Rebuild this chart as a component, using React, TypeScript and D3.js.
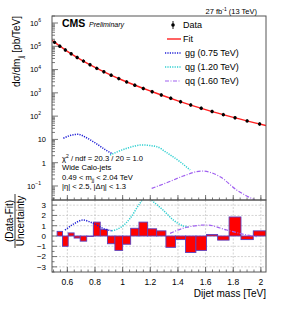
import * as d3 from "d3";
import React from "react";

// dijet mass bin edges [TeV]
const binEdges = [0.489, 0.526, 0.565, 0.606, 0.649, 0.693, 0.740, 0.788, 0.838, 0.890, 0.944, 1.000, 1.058, 1.118, 1.181, 1.246, 1.313, 1.383, 1.455, 1.530, 1.607, 1.687, 1.770, 1.856, 1.945, 2.037];
// measured dsigma/dm [pb/TeV]
const dataXsec = [148000, 101000, 69300, 47500, 33000, 23100, 16200, 11300, 8020, 5730, 4090, 2950, 2130, 1540, 1120, 809, 583, 417, 301, 217, 158, 116, 85, 62.5, 45.9];
// (data-fit)/uncertainty per bin
const residuals = [0, 0.45, -1.0, 0.3, -0.2, -0.5, -0.05, 1.35, 0.65, -0.75, -1.4, -0.8, 0.75, 1.35, 0.7, 0.5, -1.1, -0.35, -1.6, -1.4, 0.15, -0.4, 1.85, -0.35, 0.5];

const fitMass = [0.489, 0.6, 0.7, 0.8, 0.9, 1.0, 1.2, 1.4, 1.6, 1.8, 2.037];
const fitXsec = [179000, 60800, 26300, 12400, 6380, 3480, 1200, 456, 191, 89, 39.3];

const ggMass = [0.571, 0.625, 0.679, 0.73, 0.788, 0.885, 0.921];
const ggXsec = [11.2, 15.0, 16.6, 12.5, 8.0, 3.3, 2.5];
const qgMass = [0.909, 1.03, 1.138, 1.247, 1.319, 1.415, 1.488];
const qgXsec = [2.14, 4.15, 5.75, 4.87, 2.69, 1.1, 0.485];
const qqMass = [1.21, 1.319, 1.439, 1.572, 1.705, 1.825, 1.957];
const qqXsec = [0.079, 0.138, 0.268, 0.44, 0.25, 0.067, 0.025];

const ggResMass = [0.583, 0.65, 0.711, 0.788, 0.873, 0.921];
const ggResVal = [0.58, 1.2, 1.55, 1.23, 0.65, 0.51];
const qgResMass = [0.921, 0.993, 1.053, 1.126, 1.17, 1.222, 1.294, 1.367, 1.439, 1.475];
const qgResVal = [0.5, 0.9, 1.7, 3.2, 3.9, 3.33, 2.5, 1.55, 0.97, 0.9];
const qqResMass = [1.343, 1.464, 1.608, 1.753, 1.898, 1.97];
const qqResVal = [0.26, 0.85, 1.07, 0.58, 0.1, -0.06];

const xTicks = [0.6, 0.8, 1.0, 1.2, 1.4, 1.6, 1.8, 2.0];
const xTickLabels = ["0.6", "0.8", "1", "1.2", "1.4", "1.6", "1.8", "2"];
const yDecades = [-1, 0, 1, 2, 3, 4, 5, 6];
const resTicks = [3, 2, 1, 0, -1, -2, -3];

const W = 283;
const H = 319;
const L = 52;
const R = 266;
const T = 16;
const MID = 200;
const B = 272;
const font = "'Liberation Sans', Arial, Helvetica, sans-serif";
const frameColor = "#555";

const x = d3.scaleLinear().domain([0.489, 2.037]).range([L, R]);
const yMain = d3.scaleLog().domain([0.025, 2e6]).range([MID, T]);
const yRes = d3.scaleLinear().domain([-3.5, 3.5]).range([B, MID]);

const sigColors = { gg: "#1f1fd6", qg: "#2ecfd0", qq: "#a060f0" };

function mainLine(ms: number[], vs: number[]) {
  return d3
    .line<number>()
    .x((_, i) => x(ms[i]))
    .y((v) => yMain(v))
    .curve(d3.curveMonotoneX)(vs) || undefined;
}

function resLine(ms: number[], vs: number[]) {
  return d3
    .line<number>()
    .x((_, i) => x(ms[i]))
    .y((v) => yRes(v))
    .curve(d3.curveMonotoneX)(vs) || undefined;
}

const Sup = ({ children }: { children: React.ReactNode }) => (
  <tspan dy={-3.5} fontSize={5}>{children}</tspan>
);

export default function App() {
  const centers = binEdges.slice(0, -1).map((e, i) => (e + binEdges[i + 1]) / 2);

  const minorX = d3.range(0.5, 2.04, 0.05).filter((v) => x(v) >= L && x(v) <= R);
  const logTicks: { v: number; major: boolean }[] = [];
  for (let n = -2; n <= 6; n++) {
    for (let k = 1; k <= 9; k++) {
      const v = k * Math.pow(10, n);
      if (v >= 0.025 && v <= 2e6) logTicks.push({ v, major: k === 1 });
    }
  }
  const resMinor = d3.range(-3.5, 3.51, 0.5);

  return (
    <div style={{ position: "absolute", left: 0, top: 0 }}>
      <svg width={W} height={H} style={{ display: "block", background: "#fff" }} fontFamily={font}>
        <defs>
          <clipPath id="clipMain">
            <rect x={L} y={T} width={R - L} height={MID - T} />
          </clipPath>
          <clipPath id="clipRes">
            <rect x={L} y={MID} width={R - L} height={B - MID} />
          </clipPath>
        </defs>

        {/* lower panel grid */}
        {resTicks.map((t) => (
          <line key={"gy" + t} x1={L} x2={R} y1={yRes(t)} y2={yRes(t)} stroke="#c8c8c8" strokeWidth={0.8} strokeDasharray="2,1.5" />
        ))}
        {xTicks.map((t) => (
          <line key={"gx" + t} x1={x(t)} x2={x(t)} y1={MID} y2={B} stroke="#c8c8c8" strokeWidth={0.8} strokeDasharray="2,1.5" />
        ))}

        {/* residual bars */}
        <g clipPath="url(#clipRes)">
          {residuals.map((r, i) =>
            r === 0 ? null : (
              <rect
                key={"b" + i}
                x={x(binEdges[i])}
                width={x(binEdges[i + 1]) - x(binEdges[i])}
                y={Math.min(yRes(r), yRes(0))}
                height={Math.abs(yRes(r) - yRes(0))}
                fill="#ff0000"
                stroke="#5b3fbf"
                strokeWidth={0.9}
              />
            )
          )}
          <path d={resLine(ggResMass, ggResVal)} fill="none" stroke={sigColors.gg} strokeWidth={1.5} strokeDasharray="1.2,1.2" />
          <path d={resLine(qgResMass, qgResVal)} fill="none" stroke={sigColors.qg} strokeWidth={1.5} strokeDasharray="1.2,1.2" />
          <path d={resLine(qqResMass, qqResVal)} fill="none" stroke={sigColors.qq} strokeWidth={1.2} strokeDasharray="4,1.5,1,1.5" />
        </g>

        {/* main panel */}
        <g clipPath="url(#clipMain)">
          <path d={mainLine(ggMass, ggXsec)} fill="none" stroke={sigColors.gg} strokeWidth={1.5} strokeDasharray="1.2,1.2" />
          <path d={mainLine(qgMass, qgXsec)} fill="none" stroke={sigColors.qg} strokeWidth={1.5} strokeDasharray="1.2,1.2" />
          <path d={mainLine(qqMass, qqXsec)} fill="none" stroke={sigColors.qq} strokeWidth={1.2} strokeDasharray="4,1.5,1,1.5" />
          <path d={mainLine(fitMass, fitXsec)} fill="none" stroke="#ff2020" strokeWidth={1.4} />
          {dataXsec.map((v, i) => (
            <g key={"d" + i}>
              <line x1={x(centers[i])} x2={x(centers[i])} y1={yMain(v) - 1.8} y2={yMain(v) + 1.8} stroke="#000" strokeWidth={0.8} />
              <circle cx={x(centers[i])} cy={yMain(v)} r={1.7} fill="#000" />
            </g>
          ))}
        </g>

        {/* frames */}
        <rect x={L} y={T} width={R - L} height={MID - T} fill="none" stroke={frameColor} strokeWidth={1} />
        <rect x={L} y={MID} width={R - L} height={B - MID} fill="none" stroke={frameColor} strokeWidth={1} />

        {/* x ticks both panels */}
        {[MID, B].map((base) => (
          <g key={"xt" + base}>
            {minorX.map((t) => (
              <line key={t} x1={x(t)} x2={x(t)} y1={base} y2={base - 2.5} stroke={frameColor} strokeWidth={0.8} />
            ))}
            {xTicks.map((t) => (
              <line key={"M" + t} x1={x(t)} x2={x(t)} y1={base} y2={base - 5} stroke={frameColor} strokeWidth={0.8} />
            ))}
          </g>
        ))}

        {/* log y ticks */}
        {logTicks.map((t, i) => (
          <line key={"ly" + i} x1={L} x2={L + (t.major ? 6 : 3)} y1={yMain(t.v)} y2={yMain(t.v)} stroke={frameColor} strokeWidth={0.8} />
        ))}
        {yDecades.map((n) => (
          <text key={"yl" + n} x={n >= 2 || n < 0 ? 41 : 46} y={yMain(Math.pow(10, n)) + 2.8} fontSize={7.5} textAnchor="end" fill="#000">
            {n === 0 ? "1" : n === 1 ? "10" : (
              <>
                10<Sup>{n < 0 ? "\u22121" : String(n)}</Sup>
              </>
            )}
          </text>
        ))}

        {/* residual y ticks */}
        {resMinor.map((t) => (
          <line key={"ry" + t} x1={L} x2={L + (Number.isInteger(t) ? 5 : 2.5)} y1={yRes(t)} y2={yRes(t)} stroke={frameColor} strokeWidth={0.8} />
        ))}
        {resTicks.map((t) => (
          <text key={"rl" + t} x={46} y={yRes(t) + 2.8} fontSize={8} textAnchor="end" fill="#000">
            {t < 0 ? "\u2212" + Math.abs(t) : String(t)}
          </text>
        ))}

        {/* x tick labels */}
        {xTicks.map((t, i) => (
          <text key={"xl" + t} x={x(t)} y={285} fontSize={8.5} textAnchor="middle" fill="#000">
            {xTickLabels[i]}
          </text>
        ))}
        <text x={R} y={297} fontSize={10} textAnchor="end" fill="#000">Dijet mass [TeV]</text>

        {/* y titles */}
        <text transform={`translate(20,${T}) rotate(-90)`} fontSize={10} textAnchor="end" fill="#000">
          dσ/dm<tspan dy={2.5} fontSize={7}>jj</tspan><tspan dy={-2.5}> [pb/TeV]</tspan>
        </text>
        <text transform={`translate(13,221) rotate(-90)`} fontSize={10} textAnchor="middle" fill="#000">(Data-Fit)</text>
        <line x1={15} x2={15} y1={194} y2={248} stroke="#000" strokeWidth={0.8} />
        <text transform={`translate(23.5,221) rotate(-90)`} fontSize={10} textAnchor="middle" fill="#000">Uncertainty</text>

        {/* header */}
        <text x={257} y={13.5} fontSize={7.5} textAnchor="end" fill="#000">
          27 fb<tspan dy={-3} fontSize={5}>-1</tspan><tspan dy={3}> (13 TeV)</tspan>
        </text>
        <text x={62} y={27} fontSize={10.5} fontWeight="bold" fill="#000">CMS</text>
        <text x={89} y={27} fontSize={7} fontStyle="italic" fill="#000">Preliminary</text>

        {/* legend */}
        <g fontSize={9} fill="#000">
          <line x1={173} x2={173} y1={21} y2={29} stroke="#000" strokeWidth={0.9} />
          <circle cx={173} cy={25} r={1.8} fill="#000" />
          <text x={183} y={28.2}>Data</text>
          <line x1={167} x2={181} y1={39} y2={39} stroke="#ff2020" strokeWidth={1.4} />
          <text x={183} y={42.2}>Fit</text>
          <line x1={165} x2={181} y1={53} y2={53} stroke={sigColors.gg} strokeWidth={1.5} strokeDasharray="1.2,1.2" />
          <text x={185} y={56.2}>gg (0.75 TeV)</text>
          <line x1={165} x2={181} y1={67} y2={67} stroke={sigColors.qg} strokeWidth={1.5} strokeDasharray="1.2,1.2" />
          <text x={185} y={70.2}>qg (1.20 TeV)</text>
          <line x1={165} x2={181} y1={81} y2={81} stroke={sigColors.qq} strokeWidth={1.2} strokeDasharray="4,1.5,1,1.5" />
          <text x={185} y={84.2}>qq (1.60 TeV)</text>
        </g>

        {/* fit info */}
        <g fontSize={7.6} fill="#000">
          <text x={62} y={161}>χ<tspan dy={-3} fontSize={5}>2</tspan><tspan dy={3}> / ndf = 20.3 / 20 = 1.0</tspan></text>
          <text x={62} y={170.3}>Wide Calo-jets</text>
          <text x={62} y={179.6}>0.49 &lt; m<tspan dy={2} fontSize={5.5}>jj</tspan><tspan dy={-2}> &lt; 2.04 TeV</tspan></text>
          <text x={62} y={188.9}>|η| &lt; 2.5, |Δη| &lt; 1.3</text>
        </g>
      </svg>
    </div>
  );
}
